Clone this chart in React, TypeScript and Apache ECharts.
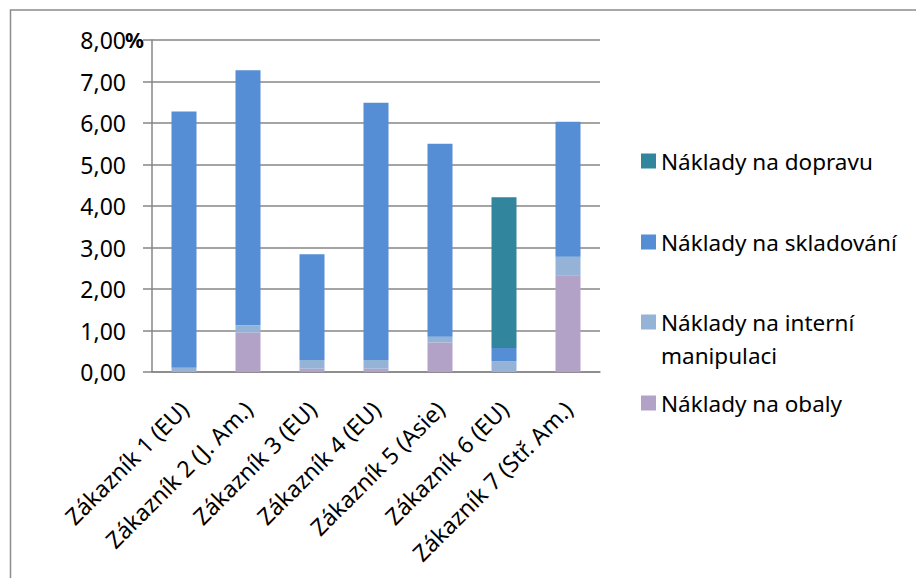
import React, { useEffect, useRef } from "react";
import * as echarts from "echarts";

// Customers and cost components (% of sales)
const categories = [
  "Zákazník 1 (EU)",
  "Zákazník 2 (J. Am.)",
  "Zákazník 3 (EU)",
  "Zákazník 4 (EU)",
  "Zákazník 5 (Asie)",
  "Zákazník 6 (EU)",
  "Zákazník 7 (Stř. Am.)",
];

const obaly = [0.0, 0.95, 0.08, 0.08, 0.71, 0.0, 2.33];
const interniManipulace = [0.1, 0.18, 0.21, 0.21, 0.14, 0.26, 0.45];
const skladovani = [6.18, 6.14, 2.55, 6.2, 4.65, 0.32, 3.25];
const doprava = [0, 0, 0, 0, 0, 3.63, 0];

const yTicks = [0, 1, 2, 3, 4, 5, 6, 7, 8];

const seriesNames = {
  doprava: "Náklady na dopravu",
  skladovani: "Náklady na skladování",
  interni: "Náklady na interní manipulaci",
  obaly: "Náklady na obaly",
};

const colors = {
  doprava: "#31859C",
  skladovani: "#558ED5",
  interni: "#95B3D7",
  obaly: "#B3A2C7",
};

const FONT = "'Noto Sans', 'DejaVu Sans', sans-serif";
const AXIS_GRAY = "#868686";
const LEGEND_LINE = 33;

export default function App() {
  const ref = useRef<HTMLDivElement>(null);

  useEffect(() => {
    if (!ref.current) return;
    const chart = echarts.init(ref.current, null, { renderer: "svg" });

    const bar = (name: string, data: number[], color: string) => ({
      name,
      type: "bar",
      stack: "total",
      data,
      barWidth: 25,
      itemStyle: { color },
      emphasis: { disabled: true },
    });

    // one legend block per series so each entry sits at its own height;
    // a leading empty line keeps the swatch level with the first line of a wrapped label
    const legendItem = (name: string, top: number, formatter?: string) => ({
      orient: "vertical",
      left: 641,
      top,
      padding: 0,
      itemWidth: 15,
      itemHeight: 15,
      itemGap: 0,
      icon: "rect",
      selectedMode: false,
      data: [name],
      formatter: formatter ?? "{name}",
      textStyle: {
        fontFamily: FONT,
        fontSize: 22.5,
        color: "#000",
        lineHeight: LEGEND_LINE,
      },
    });

    chart.setOption({
      animation: false,
      textStyle: { fontFamily: FONT },
      graphic: [
        {
          type: "rect",
          shape: { x: 10.5, y: 10, width: 1000, height: 1000 },
          style: { fill: "none", stroke: "#8c8c8c", lineWidth: 1.5 },
          silent: true,
        },
      ],
      grid: { left: 152, top: 40, right: 316, bottom: 206 },
      legend: [
        legendItem(seriesNames.doprava, 161 - LEGEND_LINE / 2),
        legendItem(seriesNames.skladovani, 242 - LEGEND_LINE / 2),
        legendItem(seriesNames.interni, 322 - (LEGEND_LINE * 3) / 2, "\nNáklady na interní\nmanipulaci"),
        legendItem(seriesNames.obaly, 403 - LEGEND_LINE / 2),
      ],
      xAxis: {
        type: "category",
        data: categories,
        axisLine: { lineStyle: { color: AXIS_GRAY, width: 1.5 } },
        axisTick: { length: 8, lineStyle: { color: AXIS_GRAY, width: 1.5 } },
        axisLabel: {
          rotate: 45,
          fontSize: 23,
          color: "#000",
          fontFamily: FONT,
          margin: 33,
          padding: [51, 0, 0, 0],
          interval: 0,
        },
      },
      yAxis: {
        type: "value",
        min: yTicks[0],
        max: yTicks[yTicks.length - 1],
        interval: 1,
        name: "%",
        nameLocation: "end",
        nameGap: 0,
        nameMoveOverlap: false,
        nameTextStyle: {
          align: "right",
          verticalAlign: "middle",
          fontSize: 21,
          fontWeight: "bold",
          color: "#000",
          fontFamily: FONT,
          padding: [0, 8, 0, 0],
        },
        axisLine: { show: true, lineStyle: { color: AXIS_GRAY, width: 1.5 } },
        axisTick: { show: true, length: 9, lineStyle: { color: AXIS_GRAY, width: 1.5 } },
        splitLine: { lineStyle: { color: AXIS_GRAY, width: 1.5 } },
        axisLabel: {
          fontSize: 23,
          color: "#000",
          fontFamily: FONT,
          margin: 26,
          formatter: (v: number) => v.toFixed(2).replace(".", ","),
        },
      },
      series: [
        bar(seriesNames.obaly, obaly, colors.obaly),
        bar(seriesNames.interni, interniManipulace, colors.interni),
        bar(seriesNames.skladovani, skladovani, colors.skladovani),
        bar(seriesNames.doprava, doprava, colors.doprava),
      ],
    });

    return () => chart.dispose();
  }, []);

  return (
    <div
      ref={ref}
      style={{ position: "fixed", left: 0, top: 0, width: 916, height: 578, background: "#fff" }}
    />
  );
}
